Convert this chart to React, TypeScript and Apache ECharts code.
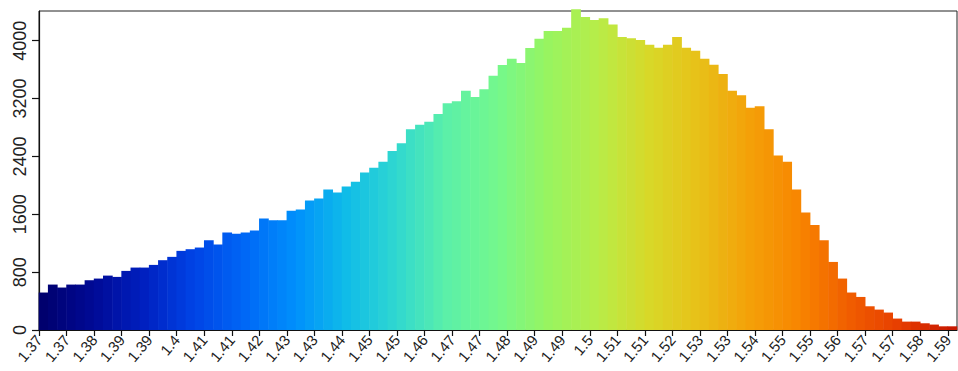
import React, { useEffect, useRef } from "react";
import * as echarts from "echarts";

// Histogram counts, 100 bins
const counts = [
  518, 628, 587, 628, 628, 688, 711, 752, 734, 817,
  863, 863, 900, 965, 1011, 1094, 1117, 1140, 1242, 1182,
  1348, 1329, 1348, 1375, 1542, 1518, 1518, 1647, 1666, 1791,
  1819, 1943, 1902, 1985, 2049, 2178, 2242, 2325, 2473, 2580,
  2774, 2837, 2879, 2985, 3133, 3161, 3308, 3221, 3327, 3516,
  3664, 3751, 3691, 3899, 4028, 4134, 4134, 4180, 4435, 4328,
  4287, 4310, 4222, 4051, 4033, 4010, 3945, 3903, 3945, 4051,
  3903, 3862, 3751, 3668, 3539, 3308, 3244, 3073, 3092, 2774,
  2414, 2325, 1943, 1625, 1453, 1242, 941, 711, 518, 457,
  328, 282, 241, 158, 116, 116, 93, 75, 51, 51,
];

const binStart = 1.366;
const binWidth = 0.0022222;
const categories = counts.map((_, i) => (binStart + i * binWidth).toFixed(4));

// x tick labels, one every 3 bins (at bin edges)
const xTickLabels = [
  "1.37", "1.37", "1.38", "1.39", "1.39", "1.4", "1.41", "1.41", "1.42", "1.43",
  "1.43", "1.44", "1.45", "1.45", "1.46", "1.47", "1.47", "1.48", "1.49", "1.49",
  "1.5", "1.51", "1.51", "1.52", "1.53", "1.53", "1.54", "1.55", "1.55", "1.56",
  "1.57", "1.57", "1.58", "1.59",
];
const xTickStep = 3;

const yTicks = [0, 800, 1600, 2400, 3200, 4000];
const yMax = 4410;

// colour ramp (jet-like)
const rampStops = [
  "#00006e", "#000a96", "#0020c0", "#0044e6", "#0068f6", "#0090fc",
  "#10bce8", "#30d8d0", "#5cf0a8", "#74f88c", "#98f460", "#b8ec48",
  "#d8d828", "#e8c018", "#f4a008", "#f88400", "#f05c00", "#e63c00", "#c81800",
];

function hexToRgb(h: string) {
  const n = parseInt(h.slice(1), 16);
  return [(n >> 16) & 255, (n >> 8) & 255, n & 255];
}
function rampColor(t: number) {
  const s = Math.max(0, Math.min(1, t)) * (rampStops.length - 1);
  const i = Math.min(rampStops.length - 2, Math.floor(s));
  const f = s - i;
  const a = hexToRgb(rampStops[i]);
  const b = hexToRgb(rampStops[i + 1]);
  const c = a.map((v, k) => Math.round(v + (b[k] - v) * f));
  return `rgb(${c[0]},${c[1]},${c[2]})`;
}

export default function App() {
  const ref = useRef<HTMLDivElement>(null);
  useEffect(() => {
    if (!ref.current) return;
    const chart = echarts.init(ref.current, null, { renderer: "svg" });
    const n = counts.length;
    const barColors = counts.map((_, i) => rampColor(i / (n - 1)));
    const xTickPos = xTickLabels.map((_, i) => i * xTickStep);
    chart.setOption({
      animation: false,
      backgroundColor: "#ffffff",
      grid: {
        left: 39,
        top: 11,
        right: 1,
        bottom: 41,
        show: true,
        borderColor: "#222",
        borderWidth: 1,
        backgroundColor: "transparent",
      },
      xAxis: [
        {
          type: "category",
          data: categories,
          position: "bottom",
          boundaryGap: true,
          axisLine: { show: true, lineStyle: { color: "#111", width: 1.2 } },
          axisTick: { show: false },
          axisLabel: { show: false },
          splitLine: { show: false },
        },
        {
          type: "value",
          min: 0,
          max: n,
          position: "bottom",
          axisLine: { show: false },
          axisTick: {
            show: true,
            length: 6,
            customValues: xTickPos,
            lineStyle: { color: "#111", width: 1.2 },
          },
          axisLabel: {
            show: true,
            customValues: xTickPos,
            rotate: 50,
            margin: 7,
            fontSize: 15,
            color: "#222",
            fontFamily: "Liberation Sans, Arial, sans-serif",
            formatter: (v: number) => xTickLabels[Math.round(v / xTickStep)] ?? "",
          },
          splitLine: { show: false },
        },
      ],
      yAxis: {
        type: "value",
        min: 0,
        max: yMax,
        axisLine: { show: true, lineStyle: { color: "#111", width: 1.2 } },
        axisTick: {
          show: true,
          length: 7,
          customValues: yTicks,
          lineStyle: { color: "#111", width: 1.2 },
        },
        axisLabel: {
          show: true,
          customValues: yTicks,
          rotate: 90,
          margin: 10,
          fontSize: 18,
          color: "#222",
          fontFamily: "Liberation Sans, Arial, sans-serif",
          formatter: (v: number) => String(v),
        },
        splitLine: { show: false },
      },
      series: [
        {
          type: "bar",
          xAxisIndex: 0,
          yAxisIndex: 0,
          data: counts.map((v, i) => ({
            value: v,
            itemStyle: { color: barColors[i] },
          })),
          barWidth: "106%",
          barGap: "0%",
          clip: false,
        },
      ],
    });
    return () => chart.dispose();
  }, []);
  return (
    <div
      ref={ref}
      style={{ position: "fixed", left: 0, top: 0, width: 958, height: 371 }}
    />
  );
}
